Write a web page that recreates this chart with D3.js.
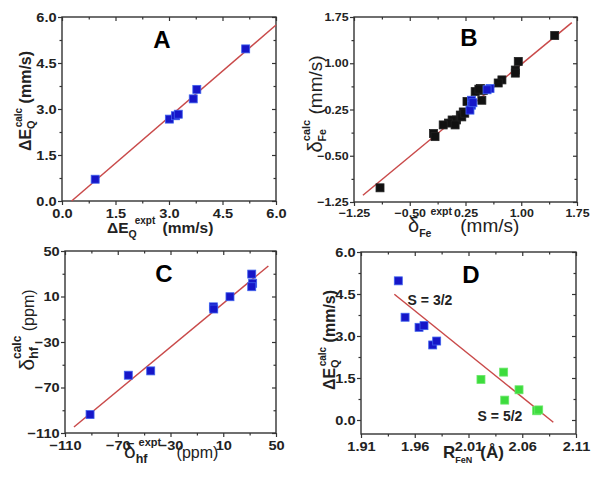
<!DOCTYPE html>
<html><head><meta charset="utf-8">
<script src="https://cdn.jsdelivr.net/npm/d3@7"></script>
<style>body{margin:0;background:#fff}</style></head>
<body><svg id="c" width="600" height="482" xmlns="http://www.w3.org/2000/svg"></svg>
<script>
// ---------- DATA ----------
// Panel A
const aExpt = [0.93, 3.01, 3.18, 3.26, 3.68, 3.78, 5.15];
const aCalc = [0.71, 2.67, 2.78, 2.83, 3.33, 3.64, 4.96];
const aFitX = [0.27, 6.0];
const aFitY = [0.0, 5.74];
const aTicks = [0, 1.5, 3.0, 4.5, 6.0];
// Panel B
const bBlackExpt = [-0.90, 1.45, 0.96, 0.92, 0.92, 0.74, 0.69, 0.45, 0.38, 0.47, 0.27, 0.22, 0.18, 0.13, 0.07, 0.02, -0.05, 0.11, -0.18, -0.16, 0.20, 0.24, 0.49, 0.43];
const bBlackCalc = [-1.02, 1.45, 1.03, 0.89, 0.84, 0.73, 0.68, 0.59, 0.54, 0.40, 0.38, 0.21, 0.16, 0.08, 0.08, 0.03, 0.00, 0.00, -0.14, -0.19, 0.13, 0.19, 0.56, 0.58];
const bBlueExpt = [0.58, 0.54, 0.33, 0.33, 0.31, 0.35];
const bBlueCalc = [0.59, 0.57, 0.40, 0.32, 0.24, 0.36];
const bFitX = [-1.13, 1.68];
const bFitY = [-1.14, 1.66];
const bTicks = [-1.25, -0.5, 0.25, 1.0, 1.75];
// Panel C
const cExpt = [-91.0, -62.0, -45.0, 2.5, 2.8, 15.1, 31.6, 32.3, 31.6];
const cCalc = [-93.8, -59.2, -55.4, 0.9, -1.0, 9.8, 29.7, 21.6, 18.6];
const cFitX = [-103.2, 44.2];
const cFitY = [-104.7, 36.8];
const cTicks = [-110, -70, -30, 10, 50];
// Panel D
const dBlueR = [1.9447, 1.951, 1.964, 1.9686, 1.9767, 1.9804];
const dBlueQ = [4.97, 3.67, 3.31, 3.37, 2.68, 2.82];
const dGreenR = [2.0216, 2.0427, 2.0437, 2.057, 2.0734, 2.0753];
const dGreenQ = [1.45, 1.71, 0.71, 1.08, 0.33, 0.36];
const dFitR = [1.941, 2.0889];
const dFitQ = [4.49, -0.08];
const dXTicks = [1.91, 1.96, 2.01, 2.06, 2.11];
const dYTicks = [0, 1.5, 3.0, 4.5, 6.0];
const spinLabels = ["S = 3/2", "S = 5/2"];
const panelLetters = ["A", "B", "C", "D"];

// ---------- DRAW ----------
const svg = d3.select("#c");
const BLUE = "#1616c8", BLUE_EDGE = "#3f62ee", GREEN = "#3ddc3d", GREEN_EDGE = "#6ae86a", BLACK = "#111";
const LINE = "#c94a4a", FRAME = "#333";
const FONT = "Arial, 'Liberation Sans', sans-serif";
const STRETCH = 1.08;

function mids(t){ const m=[]; for(let i=0;i<t.length-1;i++) m.push((t[i]+t[i+1])/2); return m; }

function panel(o){
  const x = d3.scaleLinear().domain(o.xd).range([o.l, o.r]);
  const y = d3.scaleLinear().domain(o.yd).range([o.b, o.t]);
  const g = svg.append("g");
  const style = sel => {
    sel.select(".domain").remove();
    sel.selectAll("line").attr("stroke", FRAME).attr("stroke-width", 1.2);
    sel.selectAll("text").attr("font-family", FONT).attr("font-weight", "bold")
       .attr("font-size", o.tf).attr("fill", "#222").attr("transform", `scale(${STRETCH},1)`);
  };
  g.append("g").attr("transform", `translate(0,${o.b})`)
    .call(d3.axisBottom(x).tickValues(o.xt).tickSize(4).tickPadding(3).tickFormat(d3.format(o.xf))).call(style);
  g.append("g").attr("transform", `translate(0,${o.b})`)
    .call(d3.axisBottom(x).tickValues(mids(o.xt)).tickSize(2.5).tickFormat("")).call(style);
  g.append("g").attr("transform", `translate(${o.l},0)`)
    .call(d3.axisLeft(y).tickValues(o.yt).tickSize(4).tickPadding(1).tickFormat(d3.format(o.yf))).call(style);
  g.append("g").attr("transform", `translate(${o.l},0)`)
    .call(d3.axisLeft(y).tickValues(mids(o.yt)).tickSize(2.5).tickFormat("")).call(style);
  g.append("g").attr("transform", `translate(0,${o.t})`)
    .call(d3.axisTop(x).tickValues(o.xt).tickSize(-4).tickFormat("")).call(style);
  g.append("g").attr("transform", `translate(0,${o.t})`)
    .call(d3.axisTop(x).tickValues(mids(o.xt)).tickSize(-2.5).tickFormat("")).call(style);
  g.append("g").attr("transform", `translate(${o.r},0)`)
    .call(d3.axisRight(y).tickValues(o.yt).tickSize(-4).tickFormat("")).call(style);
  g.append("g").attr("transform", `translate(${o.r},0)`)
    .call(d3.axisRight(y).tickValues(mids(o.yt)).tickSize(-2.5).tickFormat("")).call(style);
  g.append("rect").attr("x", o.l).attr("y", o.t).attr("width", o.r-o.l).attr("height", o.b-o.t)
    .attr("fill", "none").attr("stroke", FRAME).attr("stroke-width", 1.4);
  g.append("line").attr("x1", x(o.fx[0])).attr("y1", y(o.fy[0])).attr("x2", x(o.fx[1])).attr("y2", y(o.fy[1]))
    .attr("stroke", LINE).attr("stroke-width", 1.5);
  const s = 8;
  o.series.forEach(se => {
    g.selectAll(null).data(se.xs.map((v,i)=>[v, se.ys[i]])).enter().append("rect")
      .attr("x", d => x(d[0]) - s/2).attr("y", d => y(d[1]) - s/2)
      .attr("width", s).attr("height", s).attr("fill", se.fill).attr("stroke", se.edge).attr("stroke-width", 0.8);
  });
  g.append("text").attr("x", o.lx).attr("y", o.ly).attr("text-anchor", "middle")
    .attr("font-family", FONT).attr("font-weight", "bold").attr("font-size", 24).attr("fill", "#000").text(o.letter);
  return {x, y, g};
}

function title(g, tx, ty, rot, anchor, parts, size, weight){
  const t = g.append("text").attr("transform", `translate(${tx},${ty}) rotate(${rot})`)
    .attr("text-anchor", anchor).attr("font-family", FONT).attr("font-weight", weight).attr("fill", "#222")
    .attr("font-size", size);
  parts.forEach(p => {
    const ts = t.append("tspan").text(p.t);
    if (p.s) ts.attr("font-size", p.s);
    if (p.dx) ts.attr("dx", p.dx);
    if (p.dy) ts.attr("dy", p.dy);
    if (p.w) ts.attr("font-weight", p.w);
  });
}

// Panel A
const A = panel({l:62, r:276, t:17, b:201, xd:[0,6], yd:[0,6], xt:aTicks, yt:aTicks, xf:".1f", yf:".1f", tf:13.5,
  fx:aFitX, fy:aFitY, series:[{xs:aExpt, ys:aCalc, fill:BLUE, edge:BLUE_EDGE}], letter:panelLetters[0], lx:162, ly:48});
title(A.g, 31, 101, -90, "middle", [{t:"ΔE"},{t:"Q", s:11, dy:4},{t:"calc", s:10, dx:-7, dy:-13},{t:" (mm/s)", dy:9}], 16, "bold");
title(A.g, 107, 233, 0, "start", [{t:"ΔE"},{t:"Q", s:10.5, dy:5},{t:"expt", s:10, dx:-2, dy:-14},{t:" (mm/s)", dx:3, dy:9}], 15.5, "bold");

// Panel B
const B = panel({l:354, r:577, t:17, b:202, xd:[-1.25,1.75], yd:[-1.25,1.75], xt:bTicks, yt:bTicks, xf:".2f", yf:".2f", tf:11.5,
  fx:bFitX, fy:bFitY, series:[{xs:bBlackExpt, ys:bBlackCalc, fill:BLACK, edge:"#222"},{xs:bBlueExpt, ys:bBlueCalc, fill:BLUE, edge:BLUE_EDGE}],
  letter:panelLetters[1], lx:469, ly:46});
title(B.g, 322, 104, -90, "middle", [{t:"δ", s:20},{t:"Fe", s:10.5, dy:4, w:"bold"},{t:"calc", s:11, dx:-12, dy:-16, w:"bold"},{t:" (mm/s)", dy:12}], 19, "normal");
title(B.g, 408, 232, 0, "start", [{t:"δ", s:20},{t:"Fe", s:10.5, dy:5, w:"bold"},{t:"expt", s:10.5, dx:-1, dy:-22, w:"bold"},{t:" (mm/s)", dx:3, dy:17}], 19, "normal");

// Panel C
const C = panel({l:65, r:276, t:251, b:433, xd:[-110,50], yd:[-110,50], xt:cTicks, yt:cTicks, xf:"d", yf:"d", tf:13.5,
  fx:cFitX, fy:cFitY, series:[{xs:cExpt, ys:cCalc, fill:BLUE, edge:BLUE_EDGE}], letter:panelLetters[2], lx:164, ly:282});
title(C.g, 34, 330, -90, "middle", [{t:"δ", s:21},{t:"hf", s:12.5, dy:4, w:"bold"},{t:"calc", s:12, dx:-12, dy:-17, w:"bold"},{t:" (ppm)", dy:13}], 16, "normal");
title(C.g, 124, 458, 0, "start", [{t:"δ", s:21},{t:"hf", s:12.5, dy:5, w:"bold"},{t:"expt", s:11, dx:-9, dy:-17, w:"bold"},{t:" (ppm)", dx:11, dy:12}], 16, "normal");

// Panel D
const D = panel({l:361, r:576, t:252, b:434, xd:[1.91,2.11], yd:[-0.5,6.0], xt:dXTicks, yt:dYTicks, xf:".2f", yf:".1f", tf:13.5,
  fx:dFitR, fy:dFitQ, series:[{xs:dBlueR, ys:dBlueQ, fill:BLUE, edge:BLUE_EDGE},{xs:dGreenR, ys:dGreenQ, fill:GREEN, edge:GREEN_EDGE}],
  letter:panelLetters[3], lx:471, ly:283});
title(D.g, 335, 340, -90, "middle", [{t:"ΔE"},{t:"Q", s:11, dy:4},{t:"calc", s:10, dx:-7, dy:-13},{t:" (mm/s)", dy:9}], 16, "bold");
title(D.g, 443, 458, 0, "start", [{t:"R"},{t:"FeN", s:9, dy:5},{t:"(Å)", dx:8, dy:-5}], 17, "bold");
D.g.append("text").attr("x", 430).attr("y", 305).attr("text-anchor", "middle").attr("font-family", FONT)
  .attr("font-weight", "bold").attr("font-size", 14).attr("fill", "#222").text(spinLabels[0]);
D.g.append("text").attr("x", 500).attr("y", 421).attr("text-anchor", "middle").attr("font-family", FONT)
  .attr("font-weight", "bold").attr("font-size", 14).attr("fill", "#222").text(spinLabels[1]);
</script></body></html>
